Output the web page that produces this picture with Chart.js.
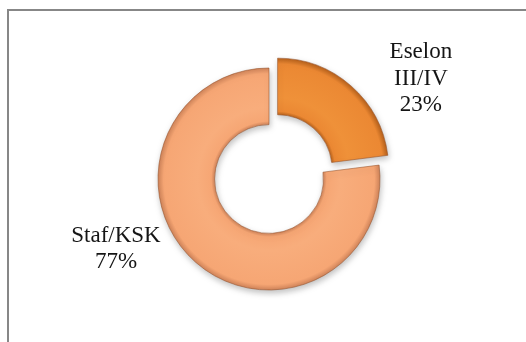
<!DOCTYPE html>
<html lang="id">
<head>
  <meta charset="UTF-8">
  <title>Komposisi Pegawai</title>
  <style>
    html, body {
      margin: 0;
      padding: 0;
      background: #fff;
      overflow: hidden;
    }
    #frame {
      position: absolute;
      left: 7px;
      top: 9px;
      width: 600px;
      height: 400px;
      border-top: 2px solid #878787;
      border-left: 2px solid #878787;
    }
    canvas {
      position: absolute;
      left: 0;
      top: 0;
    }
  </style>
</head>
<body>

  <div id="frame"></div>
  <canvas id="chartCanvas" width="526" height="342"></canvas>

  <script src="https://cdn.jsdelivr.net/npm/chart.js"></script>
  <script>
    // Data
    const categories = ['Eselon III/IV', 'Staf/KSK'];
    const shares = [23, 77];

    // colours per slice: [edge, body, highlight]
    const sliceColors = [
      ['#b8621c', '#eb8833', '#ef9139'],
      ['#d0845a', '#f6a674', '#f8ad7c']
    ];
    const flatColors = ['#eb8833', '#f6a674'];

    // where each label sits: degrees clockwise from 12 o'clock, distance in outer radii
    const labelSpots = [
      { angle: 56.2, dist: 1.647 },
      { angle: 245.9, dist: 1.51 }
    ];

    function sliceFill(context) {
      const chart = context.chart;
      const ctrl = chart.getDatasetMeta(0).controller;
      const area = chart.chartArea;
      if (!area || !ctrl.outerRadius) {
        return flatColors[context.dataIndex];
      }
      const cx = (area.left + area.right) / 2;
      const cy = (area.top + area.bottom) / 2;
      const c = sliceColors[context.dataIndex];
      const g = chart.ctx.createRadialGradient(cx, cy, ctrl.innerRadius, cx, cy, ctrl.outerRadius);
      g.addColorStop(0, c[0]);
      g.addColorStop(0.06, c[1]);
      g.addColorStop(0.3, c[2]);
      g.addColorStop(0.9, c[1]);
      g.addColorStop(1, c[0]);
      return g;
    }

    const ringLook = {
      id: 'ringLook',
      beforeDatasetsDraw(chart) {
        const ctx = chart.ctx;
        ctx.save();
        ctx.shadowColor = 'rgba(0, 0, 0, 0.25)';
        ctx.shadowBlur = 6;
        ctx.shadowOffsetX = 1;
        ctx.shadowOffsetY = 3;
      },
      afterDatasetsDraw(chart) {
        const ctx = chart.ctx;
        ctx.restore();

        const meta = chart.getDatasetMeta(0);
        const total = shares.reduce((a, b) => a + b, 0);
        ctx.save();
        ctx.font = '23px "Liberation Serif", "Times New Roman", serif';
        ctx.fillStyle = '#151515';
        ctx.textAlign = 'center';
        ctx.textBaseline = 'alphabetic';
        const lineH = 26.5;
        const capMid = 7.6;
        meta.data.forEach((arc, i) => {
          const spot = labelSpots[i];
          const a = spot.angle * Math.PI / 180;
          const r = arc.outerRadius * spot.dist;
          const x = arc.x + Math.sin(a) * r;
          const y = arc.y - Math.cos(a) * r;
          const lines = categories[i].split(' ');
          lines.push(Math.round(shares[i] / total * 100) + '%');
          const first = y - (lines.length - 1) / 2 * lineH + capMid;
          lines.forEach((t, k) => ctx.fillText(t, x, first + k * lineH));
        });
        ctx.restore();
      }
    };

    const ctx = document.getElementById('chartCanvas').getContext('2d');
    new Chart(ctx, {
      type: 'doughnut',
      data: {
        labels: categories,
        datasets: [{
          data: shares,
          backgroundColor: sliceFill,
          borderColor: 'rgba(150, 80, 40, 0.55)',
          borderWidth: 1,
          offset: [52, 0],
          radius: 111,
          cutout: '49%'
        }]
      },
      options: {
        responsive: false,
        animation: false,
        layout: {
          padding: { left: 12, right: 0, top: 16, bottom: 0 }
        },
        plugins: {
          legend: { display: false },
          tooltip: { enabled: false }
        }
      },
      plugins: [ringLook]
    });
  </script>

</body>
</html>
